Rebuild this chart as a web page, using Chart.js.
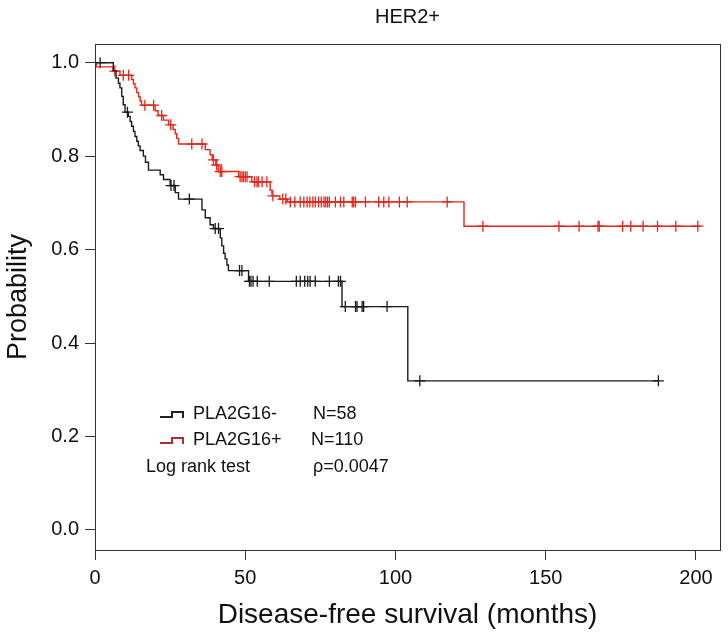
<!DOCTYPE html>
<html>
<head>
<meta charset="utf-8">
<script src="https://cdn.jsdelivr.net/npm/chart.js@4.4.0/dist/chart.umd.min.js"></script>
<style>
  body { margin: 0; background: #fff; }
  #wrap { width: 728px; height: 640px; }
</style>
</head>
<body>
<div id="wrap"><canvas id="km" width="728" height="640"></canvas></div>
<script>
// Kaplan-Meier steps (months, survival probability after the step)
const negTimes = [0, 6.1, 7.0, 7.8, 8.3, 8.9, 9.4, 10.0, 11.1, 11.7, 12.2, 12.8, 13.3, 13.9, 14.4, 15.0, 16.1, 16.8, 17.8, 21.7, 22.8, 25.0, 26.7, 27.8, 35.6, 36.7, 38.3, 39.4, 41.7, 42.2, 42.8, 43.3, 43.9, 44.4, 51.1, 82.2, 104.1, 187.5];
const negProbs = [1, 0.983, 0.967, 0.956, 0.946, 0.928, 0.910, 0.894, 0.885, 0.874, 0.864, 0.853, 0.842, 0.832, 0.822, 0.812, 0.800, 0.787, 0.770, 0.760, 0.750, 0.737, 0.722, 0.708, 0.685, 0.668, 0.653, 0.645, 0.625, 0.608, 0.592, 0.580, 0.567, 0.555, 0.532, 0.478, 0.319, 0.319];
const negCensored = [1.7, 10.8, 25.3, 26.3, 31.4, 40.0, 41.1, 48.1, 48.9, 51.4, 51.9, 52.6, 54.0, 58.0, 67.0, 68.3, 69.8, 70.8, 71.6, 73.3, 78.0, 81.0, 81.7, 83.3, 86.7, 87.2, 88.9, 89.4, 97.2, 108.1, 187.5];

const posTimes = [0, 0.5, 6.0, 8.3, 12.2, 12.8, 13.3, 13.9, 14.5, 15.0, 15.5, 20.0, 21.0, 22.8, 24.5, 26.0, 26.7, 27.2, 27.8, 36.7, 38.3, 39.0, 40.2, 41.0, 47.8, 52.2, 58.3, 58.9, 61.5, 64.0, 122.8, 201.5];
const posProbs = [1, 0.991, 0.982, 0.973, 0.964, 0.955, 0.946, 0.936, 0.927, 0.918, 0.909, 0.897, 0.887, 0.877, 0.867, 0.857, 0.848, 0.838, 0.826, 0.814, 0.803, 0.792, 0.781, 0.767, 0.756, 0.745, 0.727, 0.715, 0.708, 0.702, 0.650, 0.650];
const posCensored = [6.6, 9.4, 11.2, 16.6, 19.5, 22.2, 25.2, 32.2, 35.6, 39.4, 40.5, 41.7, 42.2, 48.3, 48.9, 49.4, 50.0, 50.6, 53.1, 53.9, 54.4, 55.6, 57.2, 59.2, 62.5, 63.5,
  65.0, 66.5, 68.3, 69.5, 70.6, 71.5, 72.5, 73.3, 74.4, 75.3, 76.2, 76.8, 77.4, 78.0, 80.0, 81.7, 82.8, 85.6, 86.1, 86.7, 90.0, 94.4, 96.1, 97.8, 101.3, 103.9, 117.2,
  129.1, 154.4, 161.1, 167.4, 167.8, 175.6, 178.3, 182.4, 187.2, 193.3, 200.6];

const xTicks = [0, 50, 100, 150, 200];
const yTicks = [0.0, 0.2, 0.4, 0.6, 0.8, 1.0];

const corNeg = '#1a1a1a';
const corPos = '#e5261c';
const fonte = '"Liberation Sans", Arial, sans-serif';

// valor da curva no tempo t (para colocar as cruzes em cima da linha)
function survAt(times, probs, t) {
    let s = probs[0];
    for (let i = 0; i < times.length; i++) {
        if (times[i] <= t) s = probs[i];
    }
    return s;
}

function pontos(times, probs) {
    return times.map((t, i) => ({ x: t, y: probs[i] }));
}

function cruzes(cens, times, probs) {
    return cens.map(t => ({ x: t, y: survAt(times, probs, t) }));
}

// caixa em volta da área do gráfico + legenda
const moldura = {
    id: 'moldura',
    afterDatasetsDraw(chart) {
        const ctx = chart.ctx;
        const a = chart.chartArea;
        ctx.save();
        ctx.strokeStyle = '#333';
        ctx.lineWidth = 1;
        ctx.strokeRect(Math.round(a.left) + 0.5, Math.round(a.top) + 0.5, Math.round(a.right - a.left), Math.round(a.bottom - a.top));

        // legenda
        function icone(x, y, cor) {
            ctx.strokeStyle = cor;
            ctx.lineWidth = 2;
            ctx.beginPath();
            ctx.moveTo(x, y + 3);
            ctx.lineTo(x + 12, y + 3);
            ctx.lineTo(x + 12, y - 2);
            ctx.lineTo(x + 23, y - 2);
            ctx.lineTo(x + 23, y + 4);
            ctx.stroke();
        }
        icone(160, 414, '#222');
        icone(160, 440, '#a83232');
        ctx.fillStyle = '#111';
        ctx.font = '18px ' + fonte;
        ctx.textBaseline = 'middle';
        ctx.fillText('PLA2G16-', 193, 414);
        ctx.fillText('N=58', 313, 414);
        ctx.fillText('PLA2G16+', 193, 440);
        ctx.fillText('N=110', 311, 440);
        ctx.fillText('Log rank test', 146, 467);
        ctx.fillText('\u03c1=0.0047', 313, 467);
        ctx.restore();
    }
};

const ctx = document.getElementById('km').getContext('2d');
new Chart(ctx, {
    type: 'line',
    data: {
        datasets: [
            {
                data: pontos(negTimes, negProbs),
                stepped: true,
                borderColor: corNeg,
                borderWidth: 1.4,
                pointRadius: 0,
                fill: false
            },
            {
                data: pontos(posTimes, posProbs),
                stepped: true,
                borderColor: corPos,
                borderWidth: 1.4,
                pointRadius: 0,
                fill: false
            },
            {
                data: cruzes(negCensored, negTimes, negProbs),
                showLine: false,
                pointStyle: 'cross',
                pointRadius: 5.5,
                pointBorderWidth: 1.3,
                pointBorderColor: corNeg,
                pointBackgroundColor: corNeg
            },
            {
                data: cruzes(posCensored, posTimes, posProbs),
                showLine: false,
                pointStyle: 'cross',
                pointRadius: 5.5,
                pointBorderWidth: 1.3,
                pointBorderColor: corPos,
                pointBackgroundColor: corPos
            }
        ]
    },
    options: {
        responsive: false,
        animation: false,
        layout: { padding: { left: 0, right: 8, top: 0, bottom: 0 } },
        plugins: {
            legend: { display: false },
            tooltip: { enabled: false },
            title: {
                display: true,
                text: 'HER2+',
                fullSize: false,
                color: '#111',
                font: { family: fonte, size: 20, weight: 'normal' },
                padding: { top: 5, bottom: 15 }
            }
        },
        scales: {
            x: {
                type: 'linear',
                min: 0,
                max: 208,
                afterBuildTicks: s => { s.ticks = xTicks.map(v => ({ value: v })); },
                afterFit: s => { s.height = 90; },
                border: { display: false },
                grid: { drawOnChartArea: false, drawTicks: true, tickLength: 10, color: '#333' },
                ticks: { color: '#111', padding: 6, font: { family: fonte, size: 20 }, maxRotation: 0 },
                title: {
                    display: true,
                    text: 'Disease-free survival (months)',
                    color: '#111',
                    font: { family: fonte, size: 28 },
                    padding: { top: 0, bottom: 8 }
                }
            },
            y: {
                type: 'linear',
                min: -0.043,
                max: 1.04,
                afterBuildTicks: s => { s.ticks = yTicks.map(v => ({ value: v })); },
                afterFit: s => { s.width = 95; },
                border: { display: false },
                grid: { drawOnChartArea: false, drawTicks: true, tickLength: 10, color: '#333' },
                ticks: { color: '#111', padding: 6, font: { family: fonte, size: 20 }, callback: v => v.toFixed(1) },
                title: {
                    display: true,
                    text: 'Probability',
                    color: '#111',
                    font: { family: fonte, size: 27 },
                    padding: { top: 2, bottom: 0 }
                }
            }
        }
    },
    plugins: [moldura]
});
</script>
</body>
</html>
